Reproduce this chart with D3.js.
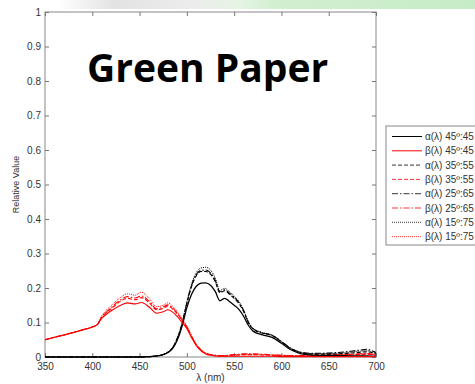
<!DOCTYPE html>
<html>
<head>
    <meta http-equiv="Content-Type" content="text/html;charset=utf-8" />
    <style>
        body { margin: 0; background: #fff; overflow: hidden; }
        .axis path { display: none; }
        .axis line { stroke: #777; }
        .axis text { fill: #333; font: 10px "Liberation Sans", Arial, sans-serif; }
        .line { fill: none; }
        .legend text { fill: #333; font: 10px "Liberation Sans", Arial, sans-serif; }
    </style>
</head>
<body>
    <svg width="475" height="384"></svg>
    <script src="https://cdn.jsdelivr.net/npm/d3@7"></script>
    <script>
        // wavelengths (nm)
        var wl = [350, 360, 370, 380, 390, 400, 405, 410, 415, 420, 430, 437, 445, 452, 460, 468, 475, 480, 485, 490,
            495, 500, 505, 510, 515, 520, 525, 530, 535, 540, 545, 550, 555, 560, 565, 570, 580, 590, 600, 610,
            620, 630, 640, 660, 680, 690, 700];

        var alpha45 = [0, 0, 0, 0, 0, 0, 0, 0, 0, 0, 0, 0, 0, 0, .001, .003, .007, .013, .025, .050,
            .090, .143, .182, .205, .214, .215, .208, .190, .163, .170, .161, .150, .138, .118, .092, .075, .064, .057, .040, .021,
            .010, .006, .005, .004, .003, .003, .002];
        var beta45 = [.050, .057, .064, .071, .079, .087, .093, .112, .124, .134, .150, .157, .154, .158, .145, .127, .131, .137, .130, .117,
            .100, .082, .056, .033, .018, .009, .005, .003, .002, .002, .002, .002, .002, .002, .002, .002, .002, .002, .001, .001,
            .001, .001, .001, .001, .001, .001, .001];
        var alpha35 = [0, 0, 0, 0, 0, 0, 0, 0, 0, 0, 0, 0, 0, 0, .001, .003, .007, .014, .027, .054,
            .096, .155, .205, .236, .248, .248, .240, .218, .186, .192, .182, .170, .155, .132, .100, .081, .069, .062, .044, .024,
            .013, .009, .008, .009, .013, .015, .009];
        var beta35 = [.050, .057, .064, .071, .079, .087, .093, .115, .129, .140, .162, .170, .166, .172, .158, .137, .141, .148, .139, .125,
            .106, .086, .059, .035, .019, .010, .006, .004, .003, .003, .004, .005, .006, .007, .007, .007, .006, .005, .004, .003,
            .003, .003, .004, .005, .007, .008, .005];
        var alpha25 = [0, 0, 0, 0, 0, 0, 0, 0, 0, 0, 0, 0, 0, 0, .001, .003, .007, .014, .027, .055,
            .097, .157, .207, .239, .251, .252, .244, .222, .189, .195, .185, .173, .158, .134, .101, .082, .070, .063, .045, .025,
            .014, .011, .011, .013, .019, .022, .013];
        var beta25 = [.050, .057, .064, .071, .079, .087, .093, .116, .131, .143, .166, .175, .171, .177, .162, .140, .145, .151, .142, .127,
            .108, .087, .060, .036, .020, .011, .007, .005, .004, .004, .006, .007, .008, .009, .009, .009, .008, .006, .005, .004,
            .004, .004, .005, .007, .009, .010, .006];
        var alpha15 = [0, 0, 0, 0, 0, 0, 0, 0, 0, 0, 0, 0, 0, 0, .001, .003, .007, .014, .028, .056,
            .099, .160, .212, .245, .258, .260, .252, .229, .193, .199, .189, .177, .161, .137, .103, .083, .071, .064, .045, .025,
            .014, .010, .010, .011, .016, .018, .011];
        var beta15 = [.050, .057, .064, .071, .079, .087, .094, .119, .136, .149, .173, .183, .179, .188, .170, .146, .150, .157, .147, .131,
            .111, .090, .062, .037, .021, .012, .007, .005, .004, .004, .005, .006, .007, .008, .008, .008, .007, .006, .005, .004,
            .004, .004, .005, .006, .008, .009, .006];

        var seriesLabels = ["α(λ) 45º:45", "β(λ) 45º:45", "α(λ) 35º:55", "β(λ) 35º:55",
            "α(λ) 25º:65", "β(λ) 25º:65", "α(λ) 15º:75", "β(λ) 15º:75"];
        var seriesValues = [alpha45, beta45, alpha35, beta35, alpha25, beta25, alpha15, beta15];

        var xTicks = [350, 400, 450, 500, 550, 600, 650, 700];
        var yTicks = [0, 0.1, 0.2, 0.3, 0.4, 0.5, 0.6, 0.7, 0.8, 0.9, 1];
        var yTickLabels = ["0", "0.1", "0.2", "0.3", "0.4", "0.5", "0.6", "0.7", "0.8", "0.9", "1"];

        // styles per series (same order)
        var colors = ["#000", "#f00", "#000", "#f00", "#000", "#f00", "#000", "#f00"];
        var dashes = [null, null, "4,2", "4,2", "6,2,1.5,2", "6,2,1.5,2", "1,1", "1,1"];
        var widths = [1.3, 1.1, 1.1, 1.1, 1.1, 1.1, 1, 1];

        var margin = { top: 12, right: 99, bottom: 27, left: 45 };
        var svg = d3.select("svg"),
            width = +svg.attr("width") - margin.left - margin.right,
            height = +svg.attr("height") - margin.top - margin.bottom;

        // top banner
        var defs = svg.append("defs");
        var grad = defs.append("linearGradient").attr("id", "banner")
            .attr("x1", "0").attr("x2", "1").attr("y1", "0").attr("y2", "0");
        [[0, "#ffffff"], [0.12, "#ffffff"], [0.24, "#e3e3e3"], [0.40, "#ececec"], [0.50, "#e6f4e4"],
         [0.58, "#d2efd0"], [1, "#c6ecc6"]].forEach(function (s) {
            grad.append("stop").attr("offset", s[0]).attr("stop-color", s[1]);
        });
        svg.append("rect").attr("x", 0).attr("y", 0).attr("width", 475).attr("height", 9)
            .attr("fill", "url(#banner)");

        var g = svg.append("g").attr("transform", "translate(" + margin.left + "," + margin.top + ")");

        var x = d3.scaleLinear().domain([350, 700]).range([0, width]),
            y = d3.scaleLinear().domain([0, 1]).range([height, 0]);

        g.append("rect").attr("width", width).attr("height", height)
            .attr("fill", "#fff").attr("stroke", "#888").attr("stroke-width", 1);

        g.append("g").attr("class", "axis")
            .attr("transform", "translate(0," + height + ")")
            .call(d3.axisBottom(x).tickValues(xTicks).tickSizeInner(-4).tickSizeOuter(0).tickPadding(6));
        g.append("g").attr("class", "axis")
            .call(d3.axisTop(x).tickValues(xTicks).tickSizeInner(-4).tickSizeOuter(0).tickFormat(""));
        g.append("g").attr("class", "axis")
            .call(d3.axisLeft(y).tickValues(yTicks).tickSizeInner(-4).tickSizeOuter(0).tickPadding(4)
                .tickFormat(function (d, i) { return yTickLabels[i]; }));
        g.append("g").attr("class", "axis")
            .attr("transform", "translate(" + width + ",0)")
            .call(d3.axisRight(y).tickValues(yTicks).tickSizeInner(-4).tickSizeOuter(0).tickFormat(""));

        g.append("text")
            .attr("transform", "rotate(-90)")
            .attr("x", -height / 2).attr("y", -26)
            .attr("text-anchor", "middle")
            .style("font", "9px 'Liberation Sans', Arial, sans-serif").attr("fill", "#333")
            .text("Relative Value");
        g.append("text")
            .attr("x", width / 2).attr("y", height + 24)
            .attr("text-anchor", "middle")
            .style("font", "10px 'Liberation Sans', Arial, sans-serif").attr("fill", "#333")
            .text("λ (nm)");

        var line = d3.line()
            .curve(d3.curveMonotoneX)
            .x(function (d, i) { return x(wl[i]); })
            .y(function (d) { return y(d); });

        // draw back to front: dotted first so solid is on top
        var order = [6, 7, 4, 5, 2, 3, 0, 1];
        order.forEach(function (i) {
            g.append("path")
                .attr("class", "line")
                .attr("d", line(seriesValues[i]))
                .attr("stroke", colors[i])
                .attr("stroke-width", widths[i])
                .attr("stroke-dasharray", dashes[i]);
        });

        g.append("text")
            .attr("x", 42).attr("y", 70)
            .style("font", "bold 39px 'Open Sans', sans-serif")
            .attr("fill", "#000")
            .text("Green Paper");

        // legend
        var lg = svg.append("g").attr("class", "legend").attr("transform", "translate(386,126)");
        lg.append("rect").attr("width", 100).attr("height", 119)
            .attr("fill", "#fff").attr("stroke", "#888");
        var item = lg.selectAll(".item").data(seriesLabels).enter().append("g")
            .attr("class", "item")
            .attr("transform", function (d, i) { return "translate(0," + (10.5 + i * 14.3) + ")"; });
        item.append("line")
            .attr("x1", 6).attr("x2", 36)
            .attr("stroke", function (d, i) { return colors[i]; })
            .attr("stroke-width", 1)
            .attr("stroke-dasharray", function (d, i) { return dashes[i]; })
            .attr("stroke-opacity", function (d, i) { return i < 2 ? 1 : 0.8; });
        item.append("text")
            .attr("x", 39).attr("dy", "0.35em")
            .text(function (d) { return d; });
    </script>
</body>
</html>
